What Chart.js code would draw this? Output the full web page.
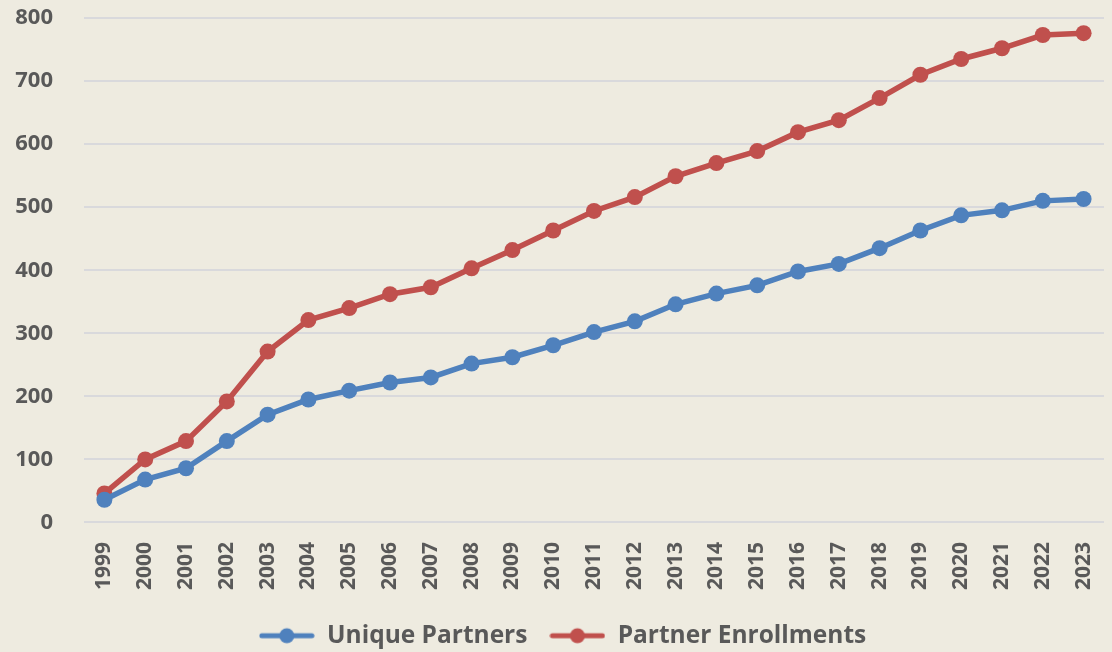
<!DOCTYPE html>
<html>
<head>
<meta charset="utf-8">
<script src="https://cdn.jsdelivr.net/npm/chart.js@4/dist/chart.umd.min.js"></script>
<style>
  html, body { margin: 0; padding: 0; background: #EEEBE0; }
  #wrap { width: 1112px; height: 652px; }
</style>
</head>
<body>
<div id="wrap"><canvas id="growthChart"></canvas></div>
<script>
const years = ['1999','2000','2001','2002','2003','2004','2005','2006','2007','2008','2009','2010',
  '2011','2012','2013','2014','2015','2016','2017','2018','2019','2020','2021','2022','2023'];
const uniquePartners = [36, 68, 86, 129, 171, 195, 209, 222, 230, 252, 262, 281,
  302, 319, 346, 363, 376, 398, 410, 435, 463, 487, 495, 510, 513];
const partnerEnrollments = [46, 100, 129, 192, 271, 321, 340, 362, 373, 403, 432, 463,
  494, 516, 549, 570, 589, 619, 638, 673, 710, 735, 752, 773, 776];
const yTicks = [0, 100, 200, 300, 400, 500, 600, 700, 800];

const BLUE = '#4F81BD';
const RED = '#C0504D';
const TEXT = '#595959';
const FONT = '"Open Sans", sans-serif';

// small line+dot swatch for the legend
function makeSwatch(color) {
    const c = document.createElement('canvas');
    c.width = 56; c.height = 18;
    const g = c.getContext('2d');
    g.strokeStyle = color;
    g.lineWidth = 5;
    g.lineCap = 'round';
    g.beginPath();
    g.moveTo(3, 9); g.lineTo(53, 9);
    g.stroke();
    g.fillStyle = color;
    g.beginPath();
    g.arc(28, 9, 7.5, 0, Math.PI * 2);
    g.fill();
    return c;
}

const bgPlugin = {
    id: 'bg',
    beforeDraw(chart) {
        const ctx = chart.ctx;
        ctx.save();
        ctx.fillStyle = '#EEEBE0';
        ctx.fillRect(0, 0, chart.width, chart.height);
        ctx.restore();
    }
};

const ctx = document.getElementById('growthChart').getContext('2d');
new Chart(ctx, {
    type: 'line',
    data: {
        labels: years,
        datasets: [{
            label: 'Unique Partners',
            data: uniquePartners,
            borderColor: BLUE,
            backgroundColor: BLUE,
            borderWidth: 5.5,
            pointRadius: 8,
            pointBorderWidth: 0,
            pointStyle: 'circle',
            tension: 0
        }, {
            label: 'Partner Enrollments',
            data: partnerEnrollments,
            borderColor: RED,
            backgroundColor: RED,
            borderWidth: 5.5,
            pointRadius: 8,
            pointBorderWidth: 0,
            pointStyle: 'circle',
            tension: 0
        }]
    },
    options: {
        responsive: true,
        maintainAspectRatio: false,
        animation: false,
        layout: { padding: { top: 0, right: 0, left: 13, bottom: -6 } },
        scales: {
            x: {
                offset: true,
                grid: { display: false },
                border: { display: false },
                afterFit(axis) {
                    axis.paddingLeft = 0;
                    axis.paddingRight = 0;
                },
                ticks: {
                    color: TEXT,
                    font: { family: FONT, size: 21, weight: 'bold' },
                    minRotation: 90,
                    maxRotation: 90,
                    autoSkip: false,
                    padding: 11.5
                }
            },
            y: {
                min: 0,
                max: 800,
                afterBuildTicks(axis) {
                    axis.ticks = yTicks.map(v => ({ value: v }));
                },
                afterFit(axis) {
                    // tighten the axis box so the plot starts where the original does
                    axis.width = 71;
                    axis.paddingTop = 18;
                    axis.paddingBottom = 0;
                },
                grid: { color: '#D9D9DC', lineWidth: 2, drawTicks: false },
                border: { display: false },
                ticks: {
                    color: TEXT,
                    font: { family: FONT, size: 22, weight: 'bold' },
                    padding: 31
                }
            }
        },
        plugins: {
            legend: {
                position: 'bottom',
                labels: {
                    color: TEXT,
                    font: { family: FONT, size: 24.5, weight: 'bold' },
                    usePointStyle: true,
                    pointStyleWidth: 56,
                    padding: 22,
                    generateLabels(chart) {
                        return chart.data.datasets.map((ds, i) => ({
                            text: ds.label,
                            fontColor: TEXT,
                            pointStyle: makeSwatch(ds.borderColor),
                            datasetIndex: i,
                            hidden: false,
                            lineWidth: 0
                        }));
                    }
                }
            },
            tooltip: { enabled: false }
        }
    },
    plugins: [bgPlugin]
});
</script>
</body>
</html>
